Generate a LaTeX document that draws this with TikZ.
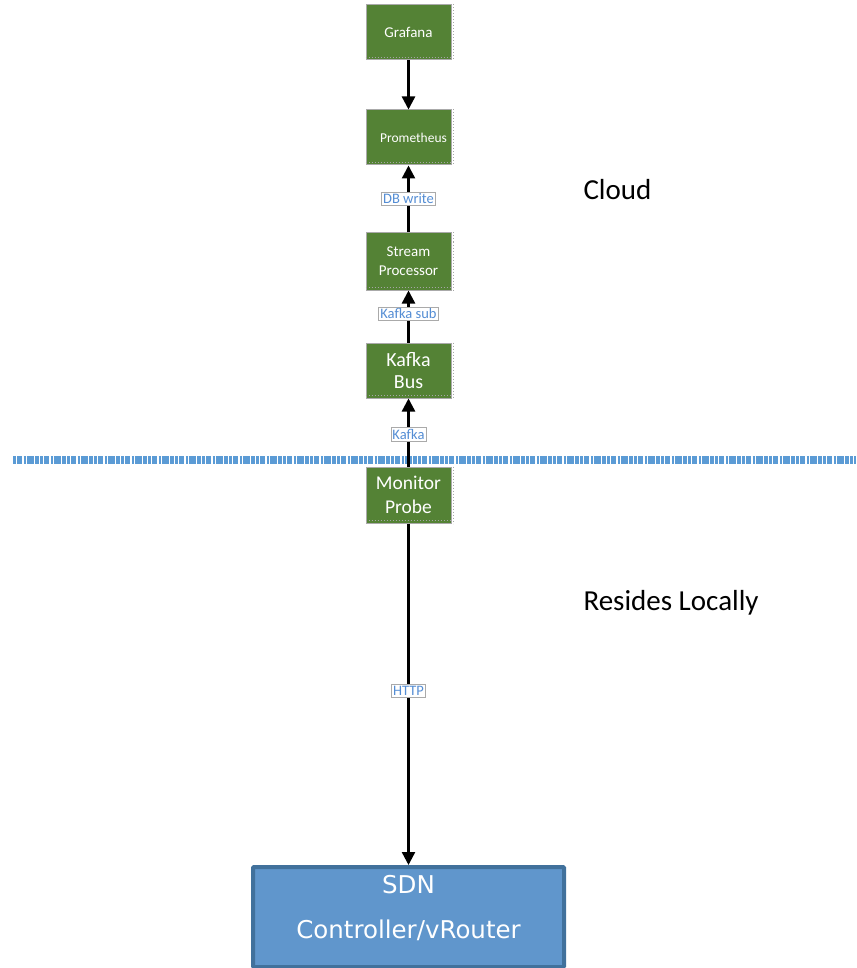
\documentclass[tikz,border=0pt]{standalone}
\usepackage{fontspec}
\setmainfont{Carlito}
\newfontfamily\dejavu{DejaVu Sans}
\usetikzlibrary{arrows.meta}
\definecolor{boxgreen}{RGB}{84,130,53}
\definecolor{boxedge}{RGB}{170,170,170}
\definecolor{sdnfill}{RGB}{96,150,204}
\definecolor{sdnedge}{RGB}{65,113,156}
\definecolor{lblblue}{RGB}{84,141,212}
\definecolor{sepblue}{RGB}{91,155,213}
\begin{document}
\begin{tikzpicture}[x=1pt,y=-1pt,
  gbox/.style={draw=boxedge,line width=1pt,fill=boxgreen,text=white,minimum width=85pt,minimum height=55pt,inner sep=1pt,align=center},
  lbl/.style={draw=boxedge,line width=0.8pt,fill=white,text=lblblue,inner sep=1.5pt,font=\fontsize{14.5}{16}\selectfont},
  conn/.style={line width=2.4pt,-{Triangle[length=13pt,width=13pt]}},
  side/.style={font=\fontsize{29}{32}\selectfont},
  shadowline/.style={draw=gray!70,line width=1pt,dotted}
]
\useasboundingbox (0,0) rectangle (856,968);
\node[gbox,font=\fontsize{15}{17}\selectfont] (g) at (408.5,32.5) {Grafana};
\node[gbox,font=\fontsize{13.5}{15}\selectfont] (p) at (408.5,137.5) {\hspace*{10pt}Prometheus};
\node[gbox,font=\fontsize{15}{19}\selectfont,minimum height=57pt] (s) at (408.5,261.5) {Stream\\Processor};
\node[gbox,font=\fontsize{20}{22}\selectfont] (k) at (408.5,370.5) {Kafka\\Bus};
\node[gbox,font=\fontsize{19.5}{24}\selectfont,minimum height=56pt] (m) at (408.5,495) {Monitor\\Probe};
\node[draw=sdnedge,line width=4pt,fill=sdnfill,text=white,minimum width=311pt,minimum height=100pt,align=center,font=\dejavu\fontsize{24.5}{45}\selectfont,rounded corners=1pt,text depth=20pt] (sdn) at (408.5,917) {SDN\\Controller/vRouter};
\foreach \n in {g,p,s,k,m}{
  \draw[shadowline] ([yshift=3pt]\n.south west) -- ([yshift=3pt]\n.south east);
  \draw[shadowline] ([xshift=2pt]\n.north east) -- ([xshift=2pt]\n.south east);
}
% separator
\draw[sepblue,line width=8pt,dash pattern=on 3pt off 1pt on 5pt off 1.5pt on 2pt off 1pt on 7pt off 1.5pt on 4pt off 1pt] (13,460) -- (856,460);
% connectors
\draw[conn] (g) -- (p);
\draw[conn] (s) -- node[lbl]{DB write} (p);
\draw[conn] (k) -- node[lbl,pos=0.55]{Kafka sub} (s);
\draw[conn] (m) -- node[lbl,pos=0.47]{Kafka} (k);
\draw[conn] (m) -- node[lbl,pos=0.49]{HTTP} (sdn);
% side texts
\node[side,anchor=west] (cloud) at (580,190) {Cloud};
\node[side,anchor=west] (local) at (580,603) {Resides Locally};
\end{tikzpicture}
\end{document}
